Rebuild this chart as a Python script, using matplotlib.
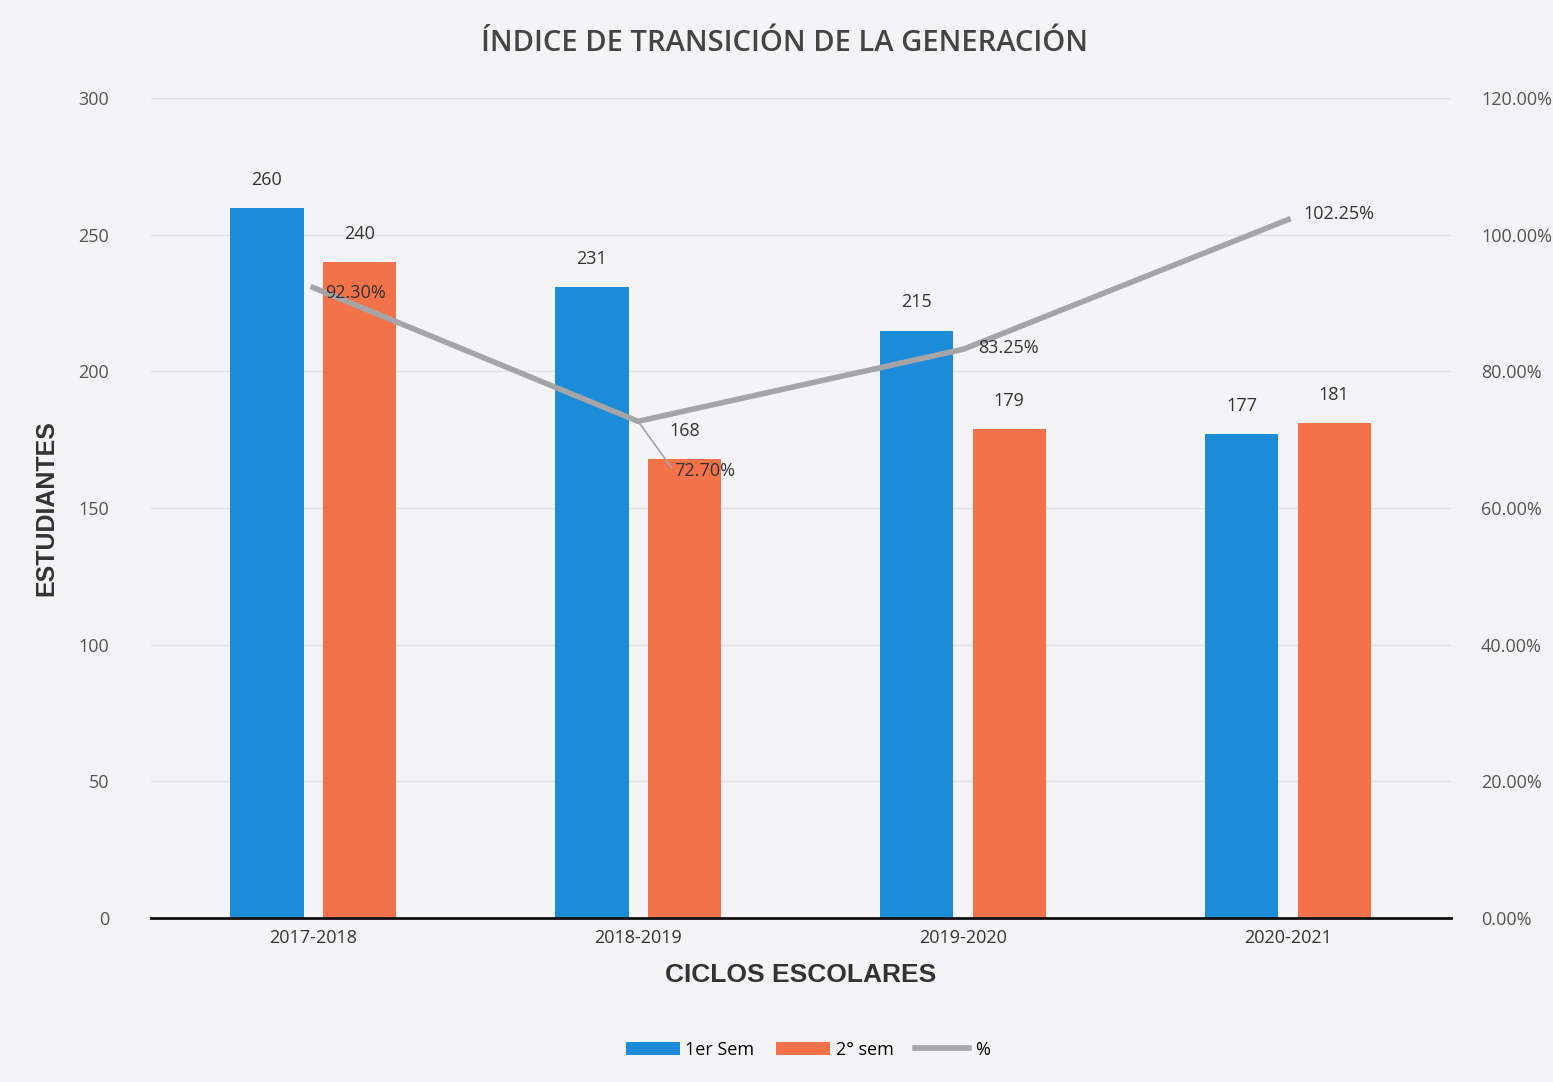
import matplotlib
matplotlib.use("Agg")
import matplotlib.pyplot as plt
import numpy as np
from matplotlib.ticker import FuncFormatter

categories = ["2017-2018", "2018-2019", "2019-2020", "2020-2021"]
sem1 = [260, 231, 215, 177]
sem2 = [240, 168, 179, 181]
pct = [92.30, 72.70, 83.25, 102.25]

plt.rcParams['font.family'] = ['Open Sans', 'DejaVu Sans']

bg = '#f4f4f6'
fig = plt.figure(figsize=(15.53, 10.82), dpi=100, facecolor=bg)
ax = fig.add_axes([0.097, 0.152, 0.837, 0.757], facecolor=bg)
ax2 = ax.twinx()

x = np.arange(len(categories))
w = 0.225
off = 0.142
blue = '#1c8bd8'
orange = '#f4724a'
b1 = ax.bar(x - off, sem1, w, color=blue, label='1er Sem', zorder=2)
b2 = ax.bar(x + off, sem2, w, color=orange, label='2° sem', zorder=2)

for rect, v in zip(b1, sem1):
    ax.text(rect.get_x() + rect.get_width() / 2, v + 7, str(v), ha='center', va='bottom',
            fontsize=13, color='#333333')
for rect, v in zip(b2, sem2):
    ax.text(rect.get_x() + rect.get_width() / 2, v + 7, str(v), ha='center', va='bottom',
            fontsize=13, color='#333333')

ax.set_xlim(-0.5, len(categories) - 0.5)
ax.set_ylim(0, 300)
ax.set_yticks(range(0, 301, 50))
ax.tick_params(axis='y', length=0, labelsize=13, labelcolor='#555555', pad=30)
ax.tick_params(axis='x', length=0, labelsize=13, labelcolor='#333333', pad=8)
ax.set_xticks(x)
ax.set_xticklabels(categories)
ax.grid(axis='y', color='#e2e2e6', linewidth=1, zorder=0)
ax.set_axisbelow(True)
for s in ['top', 'right', 'left']:
    ax.spines[s].set_visible(False)
ax.spines['bottom'].set_color('#111111')
ax.spines['bottom'].set_linewidth(2)

ax2.plot(x, pct, color='#a5a5a8', linewidth=4, label='%', zorder=3)
ax2.set_ylim(0, 120)
ax2.set_yticks(range(0, 121, 20))
ax2.yaxis.set_major_formatter(FuncFormatter(lambda v, p: f"{v:.2f}%"))
ax2.tick_params(axis='y', length=0, labelsize=13, labelcolor='#555555', pad=22)
for s in ['top', 'right', 'left', 'bottom']:
    ax2.spines[s].set_visible(False)

# percentage labels (offsets in points)
label_offsets = [(9, -4), (26, -36), (11, 1), (11, 4)]
for i, (xi, v) in enumerate(zip(x, pct)):
    dx, dy = label_offsets[i]
    kw = {}
    if i == 1:
        kw['arrowprops'] = dict(arrowstyle='-', color='#a5a5a8', lw=1.2,
                                shrinkA=0, shrinkB=2, relpos=(0, 0.5))
    ax2.annotate(f"{v:.2f}%", xy=(xi, v), xytext=(dx, dy), textcoords='offset points',
                 ha='left', va='center', fontsize=13, color='#333333', zorder=4, **kw)

ax.set_ylabel('ESTUDIANTES', family=['Liberation Sans', 'DejaVu Sans'], fontweight='bold',
              fontsize=18, color='#333333', labelpad=14)
ax.set_xlabel('CICLOS ESCOLARES', family=['Liberation Sans', 'DejaVu Sans'], fontweight='bold',
              fontsize=19, color='#333333', labelpad=12)

fig.text(0.505, 0.96, 'ÍNDICE DE TRANSICIÓN DE LA GENERACIÓN', ha='center', va='center',
         fontsize=21, fontweight='semibold', color='#444444')

h1, l1 = ax.get_legend_handles_labels()
h2, l2 = ax2.get_legend_handles_labels()
fig.legend(h1 + h2, l1 + l2, loc='center', bbox_to_anchor=(0.52, 0.03), ncol=3,
           frameon=False, fontsize=13, handlelength=3, handleheight=0.7,
           columnspacing=1.2, handletextpad=0.3)

fig.savefig('out.png', dpi=100, facecolor=bg)
